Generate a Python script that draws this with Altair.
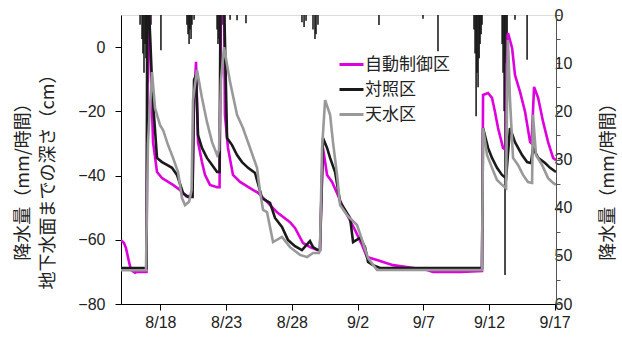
import altair as alt
import pandas as pd

BASE = "2020-08-15"
YEAR = 2020

SERIES = ["自動制御区", "対照区", "天水区"]
COLORS = ["#dd00dd", "#1a1a1a", "#999999"]
TICK_DATES = ["8/18", "8/23", "8/28", "9/2", "9/7", "9/12", "9/17"]
DEPTH_TICKS = [0, -20, -40, -60, -80]
RAIN_TICKS = [0, 5, 10, 15, 20, 25, 30, 35, 40, 45, 50, 55, 60]
LEFT_TITLE = ["降水量（mm/時間）", "地下水面までの深さ（cm）"]
RIGHT_TITLE = "降水量（mm/時間）"

# days after 8/15 00:00 and groundwater depth (cm)
MAG_T = [0.00, 0.23, 0.38, 0.61, 0.76, 1.07, 1.22, 1.94, 2.05, 2.12, 2.21, 2.44, 2.74, 3.12, 3.96, 4.49, 4.95,
         5.44, 5.56, 5.71, 5.78, 5.86, 6.16, 6.39, 6.77, 7.31, 7.50,
         7.61, 7.84, 7.91, 8.14, 8.52, 9.06, 9.82, 10.43, 11.11, 11.87, 12.86, 13.24, 13.85, 14.38, 14.92, 15.14,
         15.37, 15.68, 16.06, 16.51, 16.82, 17.81, 18.34, 18.72, 19.48, 20.70, 23.29, 23.74, 25.80, 27.47,
         27.55, 27.93, 28.23, 28.46, 28.69, 29.07, 29.30,
         29.38, 29.45, 29.76, 29.98, 30.37, 30.75, 31.13, 31.24,
         31.43, 31.74, 32.12, 32.50, 32.88, 33.10]
MAG_V = [-60.1, -61.0, -62.6, -66.9, -69.4, -70.3, -70.0, -70.0, 15, 15, -0.3, -29.6, -38.9, -40.8, -42.9, -44.5, -46.4,
         -46.4, -16.5, -4.6, -16.5, -29.6, -35.8, -39.8, -42.9, -43.6, -43.6,
         15, 15, -21.1, -31.4, -39.8, -42.0, -43.9, -45.4, -48.2, -51.4, -54.5, -56.3, -61.0, -62.3, -63.2, -63.2,
         -31.4, -39.8, -42.0, -46.1, -49.2, -57.0, -61.6, -65.4, -66.3, -67.9, -69.4, -70.0, -70.0, -69.7,
         -14.9, -14.3, -15.8, -20.2, -25.2, -31.4, -32.0,
         -4.0, 4.4, -0.3, -8.7, -14.0, -20.2, -29.6, -30.0,
         -12.4, -15.8, -23.3, -29.6, -34.5, -35.2]

BLK_T = [0.00, 1.94, 2.00, 2.10, 2.40, 2.74, 3.12, 3.50, 3.88, 4.26, 4.72, 5.10, 5.44,
         5.56, 5.71, 5.86, 6.16, 6.54, 6.93, 7.31, 7.50,
         7.57, 7.84, 8.07, 8.45, 8.83, 9.21, 9.67, 10.20, 10.73, 11.34, 11.72, 12.25, 12.71, 13.24, 13.77, 14.38, 14.61, 14.99, 15.14,
         15.37, 15.68, 15.91, 16.29, 16.67, 17.43, 17.66, 18.19, 18.57, 18.80, 19.18, 19.71, 27.47,
         27.55, 27.93, 28.23, 28.61, 28.99, 29.30,
         29.60, 29.98, 30.52, 30.90, 31.20,
         31.35, 31.74, 32.27, 32.65, 33.10]
BLK_V = [-68.8, -68.8, 15, 15, -15.0, -34.5, -35.8, -36.7, -37.6, -39.8, -45.4, -46.7, -46.7,
         -10.2, -8.7, -27.4, -31.4, -34.5, -36.7, -38.9, -38.9,
         15, 15, -28.3, -30.5, -33.6, -35.8, -37.6, -39.2, -47.0, -48.5, -53.2, -56.0, -60.1, -62.0, -63.2, -60.4, -62.3, -63.2, -63.2,
         -28.3, -31.4, -34.5, -38.9, -48.2, -53.2, -60.7, -59.4, -62.3, -66.9, -67.9, -68.8, -68.8,
         -25.2, -31.4, -34.5, -37.6, -39.8, -40.8,
         -25.2, -29.6, -33.6, -35.8, -36.1,
         -31.4, -34.5, -36.1, -37.6, -38.9]

GRY_T = [0.00, 1.90, 2.05, 2.36, 2.59, 2.97, 3.20, 3.58, 3.96, 4.34, 4.64, 4.87, 5.18,
         5.37, 5.48, 5.78, 6.16, 6.54, 6.93, 7.31, 7.46,
         7.61, 7.84, 8.30, 8.83, 9.28, 9.82, 10.35, 10.58, 10.81, 11.11, 11.57, 12.25, 12.86, 13.62, 14.16, 14.61, 15.07, 15.14,
         15.30, 15.53, 15.91, 16.13, 16.44, 16.67, 17.20, 17.96, 18.42, 18.80, 19.48, 27.47,
         27.55, 27.85, 28.23, 28.61, 28.99, 29.30,
         29.38, 29.45, 29.60, 29.83, 30.21, 30.59, 30.97, 31.28,
         31.35, 31.58, 32.04, 32.50, 32.88, 33.10]
GRY_V = [-69.5, -69.5, -30.0, -7.8, -19.0, -24.3, -25.8, -30.5, -34.5, -38.9, -47.0, -49.2, -48.2,
         -44.5, -16.5, -7.1, -15.8, -23.3, -29.6, -33.6, -32.0,
         -10.2, 0.0, -10.9, -21.1, -25.2, -31.4, -37.6, -45.1, -50.7, -51.4, -60.7, -59.1, -62.3, -64.7, -65.4, -64.1, -64.1, -63.2,
         -31.4, -16.5, -21.1, -29.6, -39.8, -49.2, -52.3, -55.4, -61.0, -65.7, -69.4, -69.4,
         -25.2, -33.6, -37.6, -41.4, -42.9, -43.9,
         -16.5, 2.2, -16.5, -34.5, -36.7, -39.8, -42.0, -42.3,
         -21.1, -33.6, -36.7, -40.8, -42.3, -42.9]

# hourly rainfall bars (days after 8/15 00:00, mm)
RAIN_T = [1.45, 1.60, 1.67, 1.75, 1.83, 1.90, 1.98, 2.05, 2.13, 2.21, 2.28, 3.04,
          5.02, 5.10, 5.18, 5.25, 5.33, 5.40, 5.56,
          7.31, 7.38, 7.46, 7.53, 7.61, 7.69, 7.84, 8.30, 8.83, 9.51,
          13.77, 13.93, 14.08, 14.61, 14.76, 14.84, 14.99,
          19.63, 22.98, 24.12,
          26.86, 26.94, 27.02, 27.09, 27.17, 27.25, 27.32, 27.40, 27.47,
          29.00, 29.07, 29.15, 29.22, 29.30, 29.38, 29.98, 30.90]
RAIN_V = [2, 5, 8, 12, 6, 9, 41, 14, 7, 4, 2, 7.3,
          2, 4, 6, 3, 5, 2, 1,
          3, 6, 5, 8, 4, 2, 1, 1.0, 1.1, 1.7,
          1.5, 2.5, 1.2, 3, 5, 4, 2,
          2.1, 0.8, 7.5,
          3, 8, 21, 12, 15, 9, 6, 4, 2,
          6, 12, 20, 54, 10, 4, 1, 9.3]

CJK = "Noto Sans CJK JP"
NUM = "Liberation Sans"


def stamp(days):
    return [(pd.Timestamp(BASE) + pd.to_timedelta(d, unit="D")).strftime("%Y-%m-%dT%H:%M:%S") for d in days]


rows = []
for name, ts, vs in zip(SERIES, [MAG_T, BLK_T, GRY_T], [MAG_V, BLK_V, GRY_V]):
    for t, v in zip(stamp(ts), vs):
        rows.append({"series": name, "time": t, "depth": v})
gw = pd.DataFrame(rows)
rain = pd.DataFrame({"time": stamp(RAIN_T), "rain": RAIN_V})


def dt(s):
    m, d = s.split("/")
    return alt.DateTime(year=YEAR, month=int(m), date=int(d))


x_enc = alt.X(
    "time:T",
    scale=alt.Scale(domain=[alt.DateTime(year=YEAR, month=8, date=15),
                            alt.DateTime(year=YEAR, month=9, date=17, hours=2, minutes=24)]),
    axis=alt.Axis(values=[dt(s) for s in TICK_DATES], format="%-m/%-d", title=None,
                  labelFont=NUM, labelFontSize=16, labelColor="#222", tickSize=6,
                  labelPadding=4, domainColor="#000", tickColor="#000", grid=False),
)

left_axis = alt.Axis(values=DEPTH_TICKS, title=LEFT_TITLE, titleFont=CJK, titleFontSize=18,
                     titleFontWeight="normal", titleColor="#222", titleAngle=270,
                     titleAlign="center", titleBaseline="middle", titleLineHeight=25,
                     titleX=-98, titleY=162, labelFont=NUM, labelFontSize=16, labelColor="#222",
                     tickSize=6, labelPadding=10, domainColor="#000", tickColor="#000", grid=False)

right_axis = alt.Axis(orient="right", values=RAIN_TICKS,
                      labelExpr="datum.value % 10 == 0 ? datum.label : ''",
                      title=RIGHT_TITLE, titleFont=CJK, titleFontSize=18, titleFontWeight="normal",
                      titleColor="#222", titleAngle=270, titleAlign="center", titleBaseline="middle",
                      titleX=52, titleY=162, labelFont=NUM, labelFontSize=16, labelColor="#222",
                      tickSize=4, labelPadding=-6, domainColor="#555", tickColor="#555", grid=False)

legend = alt.Legend(orient="none", legendX=217, legendY=36, title=None, direction="vertical",
                    symbolType="stroke", symbolSize=576, symbolStrokeWidth=3,
                    labelFont=CJK, labelFontSize=17, labelColor="#222", labelOffset=0,
                    rowPadding=3, padding=0)

color_enc = alt.Color("series:N", scale=alt.Scale(domain=SERIES, range=COLORS), legend=legend)
y_gw = alt.Y("depth:Q", scale=alt.Scale(domain=[-80, 10], nice=False, zero=False), axis=left_axis)

line_layers = [
    alt.Chart(gw).transform_filter(alt.datum.series == s)
    .mark_line(strokeWidth=2.6, clip=True)
    .encode(x=x_enc, y=y_gw, color=color_enc)
    for s in SERIES
]
lines = alt.layer(*line_layers)

rain_chart = alt.Chart(rain).mark_rule(color="#111", strokeWidth=1.5, clip=True).encode(
    x=x_enc,
    y=alt.Y("rain:Q", scale=alt.Scale(domain=[0, 60], reverse=True, nice=False), axis=right_axis),
    y2=alt.datum(0),
)

chart = (
    alt.layer(rain_chart, lines)
    .resolve_scale(y="independent")
    .properties(width=435, height=289, autosize=alt.AutoSizeParams(type="none"),
                padding={"left": 121, "top": 15, "right": 66, "bottom": 36})
    .configure_view(stroke="#555", strokeWidth=1)
    .configure(background="white")
)

chart.save("out.html", embed_options={"renderer": "svg", "actions": False})
